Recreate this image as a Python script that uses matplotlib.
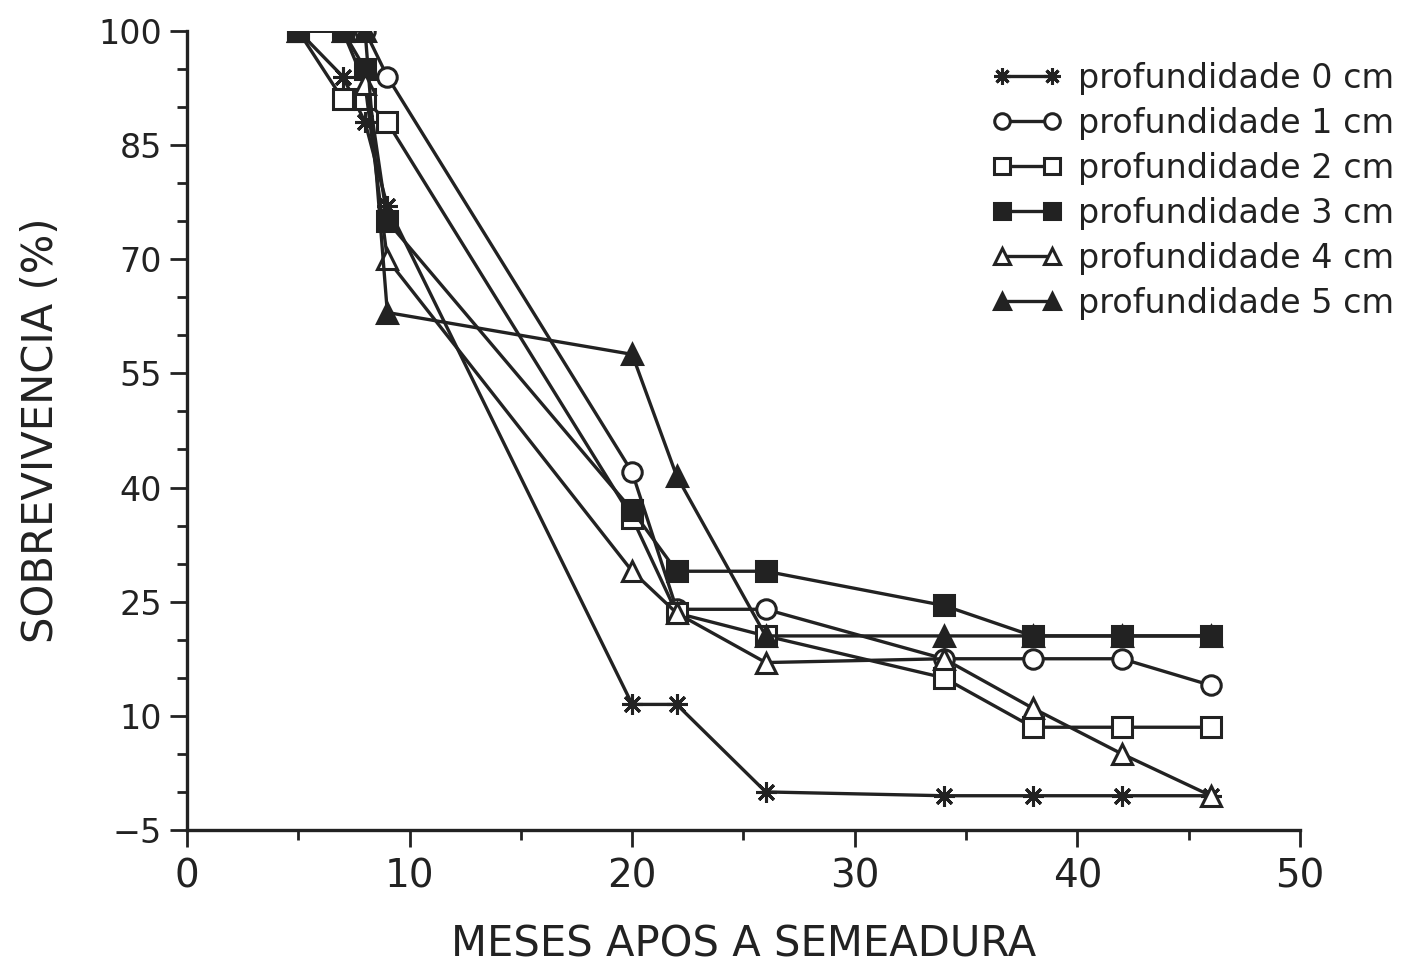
import matplotlib
matplotlib.use("Agg")
import matplotlib.pyplot as plt
from matplotlib.ticker import MultipleLocator

# months after sowing
meses = [5, 7, 8, 9, 20, 22, 26, 34, 38, 42, 46]

# survival (%) per sowing depth
prof0 = [100, 94, 88, 77, 11.5, 11.5, 0, -0.5, -0.5, -0.5, -0.5]
prof1 = [100, 100, 100, 94, 42, 24, 24, 17.5, 17.5, 17.5, 14]
prof2 = [100, 91, 91, 88, 36, 23.5, 20.5, 15, 8.5, 8.5, 8.5]
prof3 = [100, 100, 95, 75, 37, 29, 29, 24.5, 20.5, 20.5, 20.5]
prof4 = [100, 100, 93, 70, 29, 23.5, 17, 17.5, 11, 5, -0.5]
prof5 = [100, 100, 100, 63, 57.5, 41.5, 20.5, 20.5, 20.5, 20.5, 20.5]

labels = ["profundidade 0 cm", "profundidade 1 cm", "profundidade 2 cm",
          "profundidade 3 cm", "profundidade 4 cm", "profundidade 5 cm"]

ink = "#222222"

fig = plt.figure(figsize=(14.04, 9.67), dpi=100)
ax = fig.add_axes([0.1332, 0.1417, 0.7927, 0.8263])

# marker styles: asterisk, open circle, open square, filled square, open/filled triangle
styles = [
    dict(marker=(8, 2, 0), mfc=ink, ms=15, mew=2.2),
    dict(marker="o", mfc="white", ms=14, mew=2.2),
    dict(marker="s", mfc="white", ms=14, mew=2.2),
    dict(marker="s", mfc=ink, ms=15, mew=2.2),
    dict(marker="^", mfc="white", ms=14, mew=2.2),
    dict(marker="^", mfc=ink, ms=15, mew=2.2),
]
series = [prof0, prof1, prof2, prof3, prof4, prof5]

for ys, st, lab in zip(series, styles, labels):
    ax.plot(meses, ys, color=ink, lw=2.4, mec=ink, label=lab, **st)

ax.set_xlim(0, 50)
ax.set_ylim(-5, 100)
ax.xaxis.set_major_locator(MultipleLocator(10))
ax.xaxis.set_minor_locator(MultipleLocator(5))
ax.yaxis.set_minor_locator(MultipleLocator(5))
ax.set_yticks([-5, 10, 25, 40, 55, 70, 85, 100])

for s in ["top", "right"]:
    ax.spines[s].set_visible(False)
for s in ["left", "bottom"]:
    ax.spines[s].set_linewidth(2.4)
    ax.spines[s].set_color(ink)

ax.tick_params(which="major", length=12, width=2, color=ink)
ax.tick_params(which="minor", length=7, width=2, color=ink)
ax.tick_params(axis="y", labelsize=24, pad=6, labelcolor=ink)
ax.tick_params(axis="x", labelsize=28, pad=8, labelcolor=ink)

ax.set_ylabel("SOBREVIVENCIA (%)", fontsize=30, color=ink)
ax.yaxis.set_label_coords(-0.112, 0.5)
ax.set_xlabel("MESES APOS A SEMEADURA", fontsize=30, color=ink)
ax.xaxis.set_label_coords(0.5, -0.117)

ax.legend(loc="upper left", bbox_to_anchor=(975 / 1404, 1 - 45 / 967),
          bbox_transform=fig.transFigure, frameon=False, fontsize=24,
          numpoints=2, handlelength=2.1, handletextpad=0.5, labelspacing=0.36,
          markerscale=0.8, borderpad=0, labelcolor=ink)

fig.savefig("out.png", dpi=100)
